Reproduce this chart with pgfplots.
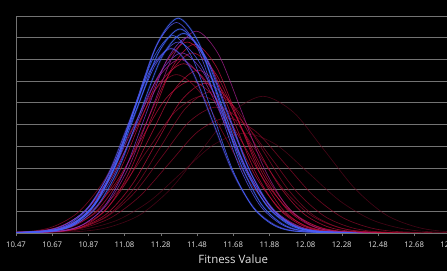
\documentclass[border=0pt]{standalone}
\usepackage{fontspec}
\setmainfont{Open Sans}
\usepackage{pgfplots}
\pgfplotsset{compat=1.18}
\definecolor{cblue}{RGB}{65,100,255}
\definecolor{cblueb}{RGB}{85,85,240}
\definecolor{cviolet}{RGB}{125,55,205}
\definecolor{cpurple}{RGB}{165,30,140}
\definecolor{cred}{RGB}{195,15,60}
\definecolor{cdred}{RGB}{150,10,45}
\definecolor{cfred}{RGB}{110,8,35}
\definecolor{gridc}{RGB}{115,115,115}
\definecolor{labc}{RGB}{225,225,225}
\begin{document}
\begin{tikzpicture}
\fill[black] (-16bp,-38bp) rectangle (431bp,233bp);
\begin{axis}[
  at={(0,0)}, anchor=south west,
  scale only axis, width=434.4bp, height=217bp,
  xmin=10.47, xmax=12.88, ymin=0, ymax=10,
  axis x line*=bottom, axis y line*=left,
  axis line style={gridc, -},
  xtick={10.47,10.671,10.872,11.072,11.273,11.474,11.675,11.876,12.076,12.277,12.478,12.679,12.88},
  xticklabels={10.47,10.67,10.87,11.08,11.28,11.48,11.68,11.88,12.08,12.28,12.48,12.68,12.88},
  ytick={1,2,3,4,5,6,7,8,9,10}, yticklabels={},
  ymajorgrids, grid style={gridc, line width=0.6bp},
  major y tick style={draw=none},
  major x tick style={gridc},
  tick align=outside, major tick length=3bp,
  /pgf/number format/assume math mode=true,
  xticklabel style={font=\fontsize{7.8}{9}\selectfont, text=labc, yshift=-2bp},
  xlabel={Fitness Value},
  xlabel style={font=\fontsize{11.5}{13}\selectfont, text=labc, yshift=-1bp},
  every axis plot/.append style={smooth, no markers, line width=0.65bp},
  glow/.style={preaction={draw, line width=2.2bp, draw opacity=0.18}},
]
% ---- red / dark red group (drawn first) ----
\addplot[cfred, draw opacity=0.6] coordinates {(10.48,0)(10.82,0.07)(10.99,0.28)(11.16,0.85)(11.33,2.05)(11.50,3.82)(11.67,5.56)(11.84,6.30)(12.01,5.56)(12.18,3.82)(12.35,2.05)(12.52,0.85)(12.69,0.28)(12.86,0.07)(13.20,0)};
\addplot[cfred, draw opacity=0.6] coordinates {(10.34,0)(10.69,0.05)(10.865,0.20)(11.04,0.62)(11.215,1.49)(11.39,2.79)(11.565,4.06)(11.74,4.60)(11.915,4.06)(12.09,2.79)(12.265,1.49)(12.44,0.62)(12.615,0.20)(12.79,0.05)(13.14,0)};
\addplot[cdred, draw opacity=0.7] coordinates {(10.36,0)(10.68,0.06)(10.84,0.23)(11.00,0.72)(11.16,1.72)(11.32,3.21)(11.48,4.68)(11.64,5.30)(11.80,4.68)(11.96,3.21)(12.12,1.72)(12.28,0.72)(12.44,0.23)(12.60,0.06)(12.92,0)};
\addplot[cdred, draw opacity=0.7] coordinates {(10.38,0)(10.68,0.06)(10.83,0.25)(10.98,0.78)(11.13,1.88)(11.28,3.52)(11.43,5.12)(11.58,5.80)(11.73,5.12)(11.88,3.52)(12.03,1.88)(12.18,0.78)(12.33,0.25)(12.48,0.06)(12.78,0)};
\addplot[cdred, draw opacity=0.7] coordinates {(10.30,0)(10.60,0.07)(10.75,0.28)(10.90,0.85)(11.05,2.05)(11.20,3.82)(11.35,5.56)(11.50,6.30)(11.65,5.56)(11.80,3.82)(11.95,2.05)(12.10,0.85)(12.25,0.28)(12.40,0.07)(12.70,0)};
\addplot[cdred, draw opacity=0.7] coordinates {(10.43,0)(10.71,0.07)(10.85,0.29)(10.99,0.88)(11.13,2.11)(11.27,3.94)(11.41,5.74)(11.55,6.50)(11.69,5.74)(11.83,3.94)(11.97,2.11)(12.11,0.88)(12.25,0.29)(12.39,0.07)(12.67,0)};
\addplot[cred, draw opacity=0.75] coordinates {(10.44,0)(10.71,0.08)(10.845,0.30)(10.98,0.93)(11.115,2.24)(11.25,4.18)(11.385,6.09)(11.52,6.90)(11.655,6.09)(11.79,4.18)(11.925,2.24)(12.06,0.93)(12.195,0.30)(12.33,0.08)(12.60,0)};
\addplot[cred, draw opacity=0.75] coordinates {(10.32,0)(10.60,0.08)(10.74,0.31)(10.88,0.95)(11.02,2.27)(11.16,4.25)(11.30,6.18)(11.44,7.00)(11.58,6.18)(11.72,4.25)(11.86,2.27)(12.00,0.95)(12.14,0.31)(12.28,0.08)(12.56,0)};
\addplot[cdred, draw opacity=0.75] coordinates {(10.28,0)(10.55,0.08)(10.685,0.32)(10.82,0.99)(10.955,2.37)(11.09,4.43)(11.225,6.44)(11.36,7.30)(11.495,6.44)(11.63,4.43)(11.765,2.37)(11.90,0.99)(12.035,0.32)(12.17,0.08)(12.44,0)};
\addplot[cred, draw opacity=0.75] coordinates {(10.44,0)(10.70,0.08)(10.83,0.33)(10.96,1.01)(11.09,2.44)(11.22,4.55)(11.35,6.62)(11.48,7.50)(11.61,6.62)(11.74,4.55)(11.87,2.44)(12.00,1.01)(12.13,0.33)(12.26,0.08)(12.52,0)};
\addplot[cred, draw opacity=0.8] coordinates {(10.32,0)(10.59,0.09)(10.725,0.34)(10.86,1.06)(10.995,2.53)(11.13,4.73)(11.265,6.88)(11.40,7.80)(11.535,6.88)(11.67,4.73)(11.805,2.53)(11.94,1.06)(12.075,0.34)(12.21,0.09)(12.48,0)};
\addplot[cpurple, draw opacity=0.8] coordinates {(10.34,0)(10.60,0.09)(10.73,0.35)(10.86,1.08)(10.99,2.60)(11.12,4.85)(11.25,7.06)(11.38,8.00)(11.51,7.06)(11.64,4.85)(11.77,2.60)(11.90,1.08)(12.03,0.35)(12.16,0.09)(12.42,0)};
\addplot[cred, draw opacity=0.8] coordinates {(10.41,0)(10.67,0.09)(10.80,0.36)(10.93,1.12)(11.06,2.70)(11.19,5.03)(11.32,7.32)(11.45,8.30)(11.58,7.32)(11.71,5.03)(11.84,2.70)(11.97,1.12)(12.10,0.36)(12.23,0.09)(12.49,0)};
\addplot[cred, draw opacity=0.8] coordinates {(10.50,0)(10.74,0.10)(10.86,0.38)(10.98,1.18)(11.10,2.82)(11.22,5.28)(11.34,7.68)(11.46,8.70)(11.58,7.68)(11.70,5.28)(11.82,2.82)(11.94,1.18)(12.06,0.38)(12.18,0.10)(12.42,0)};
\addplot[cred, draw opacity=0.8] coordinates {(10.42,0)(10.67,0.10)(10.795,0.39)(10.92,1.19)(11.045,2.86)(11.17,5.34)(11.295,7.77)(11.42,8.80)(11.545,7.77)(11.67,5.34)(11.795,2.86)(11.92,1.19)(12.045,0.39)(12.17,0.10)(12.42,0)};
\addplot[cpurple, draw opacity=0.8] coordinates {(10.47,0)(10.72,0.10)(10.845,0.41)(10.97,1.26)(11.095,3.02)(11.22,5.64)(11.345,8.21)(11.47,9.30)(11.595,8.21)(11.72,5.64)(11.845,3.02)(11.97,1.26)(12.095,0.41)(12.22,0.10)(12.47,0)};
% ---- blue / violet group (drawn on top) ----
\addplot[cviolet, draw opacity=0.8] coordinates {(10.39,0)(10.64,0.09)(10.765,0.36)(10.89,1.12)(11.015,2.70)(11.14,5.03)(11.265,7.32)(11.39,8.30)(11.515,7.32)(11.64,5.03)(11.765,2.70)(11.89,1.12)(12.015,0.36)(12.14,0.09)(12.39,0)};
\addplot[cviolet, draw opacity=0.8] coordinates {(10.50,0)(10.73,0.10)(10.845,0.40)(10.96,1.22)(11.075,2.92)(11.19,5.46)(11.305,7.94)(11.42,9.00)(11.535,7.94)(11.65,5.46)(11.765,2.92)(11.88,1.22)(11.995,0.40)(12.11,0.10)(12.34,0)};
\addplot[cblueb, glow, draw opacity=0.85] coordinates {(10.41,0)(10.64,0.09)(10.755,0.37)(10.87,1.15)(10.985,2.76)(11.10,5.16)(11.215,7.50)(11.33,8.50)(11.445,7.50)(11.56,5.16)(11.675,2.76)(11.79,1.15)(11.905,0.37)(12.02,0.09)(12.25,0)};
\addplot[cblueb, draw opacity=0.85] coordinates {(10.37,0)(10.62,0.10)(10.745,0.39)(10.87,1.19)(10.995,2.86)(11.12,5.34)(11.245,7.77)(11.37,8.80)(11.495,7.77)(11.62,5.34)(11.745,2.86)(11.87,1.19)(11.995,0.39)(12.12,0.10)(12.37,0)};
\addplot[cblue, glow, draw opacity=0.85] coordinates {(10.44,0)(10.68,0.10)(10.80,0.40)(10.92,1.24)(11.04,2.99)(11.16,5.58)(11.28,8.12)(11.40,9.20)(11.52,8.12)(11.64,5.58)(11.76,2.99)(11.88,1.24)(12.00,0.40)(12.12,0.10)(12.36,0)};
\addplot[cblue, draw opacity=0.85] coordinates {(10.46,0)(10.68,0.10)(10.79,0.40)(10.90,1.23)(11.01,2.95)(11.12,5.52)(11.23,8.03)(11.34,9.10)(11.45,8.03)(11.56,5.52)(11.67,2.95)(11.78,1.23)(11.89,0.40)(12.00,0.10)(12.22,0)};
\addplot[cblue, glow, draw opacity=0.9] coordinates {(10.42,0)(10.66,0.10)(10.78,0.41)(10.90,1.27)(11.02,3.05)(11.14,5.70)(11.26,8.30)(11.38,9.40)(11.50,8.30)(11.62,5.70)(11.74,3.05)(11.86,1.27)(11.98,0.41)(12.10,0.10)(12.34,0)};
\addplot[cblue, glow, draw opacity=0.9] coordinates {(10.45,0)(10.68,0.11)(10.795,0.43)(10.91,1.34)(11.025,3.21)(11.14,6.00)(11.255,8.74)(11.37,9.90)(11.485,8.74)(11.60,6.00)(11.715,3.21)(11.83,1.34)(11.945,0.43)(12.06,0.11)(12.29,0)};
\addplot[cblueb, draw opacity=0.85] coordinates {(10.44,0)(10.67,0.11)(10.785,0.43)(10.90,1.31)(11.015,3.15)(11.13,5.88)(11.245,8.56)(11.36,9.70)(11.475,8.56)(11.59,5.88)(11.705,3.15)(11.82,1.31)(11.935,0.43)(12.05,0.11)(12.28,0)};
\end{axis}
\pgfresetboundingbox
\useasboundingbox (-16bp,-38bp) rectangle (431bp,233bp);
\end{tikzpicture}
\end{document}
